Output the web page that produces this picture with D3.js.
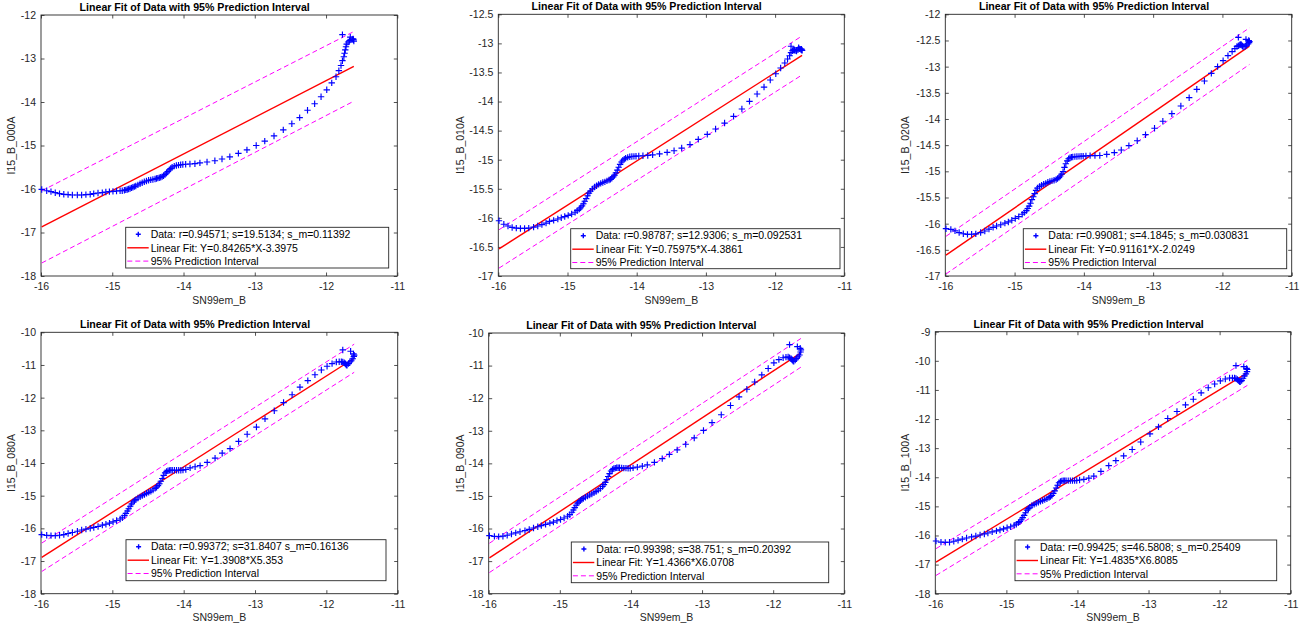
<!DOCTYPE html>
<html><head><meta charset="utf-8">
<script src="https://cdn.jsdelivr.net/npm/d3@7"></script>
<style>body{margin:0;background:#fff}svg{display:block}text{font-family:"Liberation Sans",Arial,Helvetica,sans-serif}</style>
</head><body><svg id="c" width="1313" height="630"></svg>
<script>
// ---- data ----
const X = [-15.99,-15.92,-15.86,-15.80,-15.74,-15.68,-15.62,-15.56,-15.49,-15.43,-15.37,-15.31,-15.26,-15.20,-15.14,-15.09,-15.04,-14.99,-14.94,-14.89,
-14.86,-14.83,-14.81,-14.79,-14.77,-14.75,-14.73,-14.71,-14.69,-14.67,-14.64,-14.61,-14.58,-14.55,-14.52,-14.49,-14.46,-14.43,-14.40,-14.38,-14.36,-14.34,-14.32,-14.30,-14.28,-14.26,-14.24,-14.22,-14.20,-14.18,-14.16,-14.13,-14.10,-14.07,-14.04,-14.01,
-13.97,-13.91,-13.84,-13.77,-13.67,-13.56,-13.46,-13.35,-13.23,-13.11,-12.98,-12.86,-12.73,-12.60,-12.48,-12.37,-12.26,-12.16,-12.07,-11.99,-11.92,-11.86,
-11.82,-11.79,-11.77,-11.75,-11.74,-11.73,-11.72,-11.71,-11.69,-11.67,-11.65,-11.63,-11.615,-11.61,-11.62,-11.66,-11.77];

const Y000A = [-16.01,-16.04,-16.06,-16.085,-16.107,-16.122,-16.13,-16.138,-16.138,-16.138,-16.13,-16.122,-16.107,-16.092,-16.084,-16.069,-16.061,-16.054,-16.046,-16.04,
-16.04,-16.03,-16.02,-16.01,-16.00,-15.99,-15.975,-15.96,-15.945,-15.93,-15.905,-15.88,-15.855,-15.835,-15.815,-15.80,-15.79,-15.78,-15.77,-15.76,-15.75,-15.74,-15.73,-15.715,-15.695,-15.67,-15.635,-15.60,-15.56,-15.53,-15.50,-15.475,-15.46,-15.45,-15.443,-15.437,
-15.43,-15.425,-15.418,-15.40,-15.38,-15.35,-15.31,-15.26,-15.18,-15.10,-15.00,-14.90,-14.78,-14.64,-14.50,-14.36,-14.19,-14.04,-13.88,-13.72,-13.56,-13.42,
-13.28,-13.16,-13.05,-12.96,-12.88,-12.80,-12.73,-12.67,-12.62,-12.59,-12.57,-12.56,-12.57,-12.60,-12.55,-12.51,-12.45];

const Y010A = [-16.05,-16.11,-16.14,-16.165,-16.176,-16.182,-16.182,-16.176,-16.159,-16.14,-16.117,-16.09,-16.06,-16.044,-16.02,-15.998,-15.978,-15.957,-15.935,-15.903,
-15.877,-15.85,-15.827,-15.795,-15.757,-15.714,-15.67,-15.62,-15.576,-15.54,-15.502,-15.47,-15.448,-15.425,-15.407,-15.393,-15.381,-15.365,-15.35,-15.338,-15.318,-15.295,-15.266,-15.228,-15.18,-15.13,-15.08,-15.04,-15.01,-14.99,-14.975,-14.96,-14.95,-14.946,-14.943,-14.94,
-14.937,-14.932,-14.927,-14.918,-14.90,-14.874,-14.846,-14.80,-14.74,-14.65,-14.564,-14.473,-14.37,-14.255,-14.129,-13.997,-13.871,-13.751,-13.63,-13.522,-13.424,-13.338,
-13.269,-13.212,-13.16,-13.126,-13.114,-13.11,-13.114,-13.125,-13.13,-13.11,-13.095,-13.10,-13.115,-13.12,-13.10,-13.074,-13.05];

const Y020A = [-16.096,-16.11,-16.138,-16.17,-16.192,-16.204,-16.203,-16.196,-16.17,-16.14,-16.105,-16.07,-16.045,-16.02,-15.99,-15.967,-15.935,-15.90,-15.865,-15.82,
-15.79,-15.75,-15.71,-15.665,-15.61,-15.54,-15.485,-15.425,-15.365,-15.32,-15.29,-15.265,-15.245,-15.232,-15.21,-15.195,-15.183,-15.17,-15.155,-15.14,-15.12,-15.09,-15.055,-15.005,-14.925,-14.855,-14.80,-14.76,-14.74,-14.73,-14.726,-14.72,-14.718,-14.715,-14.712,-14.709,
-14.705,-14.70,-14.70,-14.697,-14.675,-14.643,-14.593,-14.51,-14.415,-14.30,-14.178,-14.044,-13.899,-13.752,-13.593,-13.433,-13.274,-13.128,-13.0,-12.886,-12.79,-12.714,
-12.657,-12.612,-12.60,-12.587,-12.58,-12.575,-12.59,-12.61,-12.62,-12.61,-12.59,-12.565,-12.54,-12.52,-12.50,-12.48,-12.44];

const Y080A = [-16.193,-16.213,-16.223,-16.223,-16.21,-16.19,-16.158,-16.128,-16.09,-16.052,-16.025,-15.998,-15.972,-15.942,-15.902,-15.874,-15.84,-15.80,-15.76,-15.715,
-15.675,-15.61,-15.54,-15.47,-15.40,-15.325,-15.255,-15.195,-15.155,-15.12,-15.07,-15.037,-14.998,-14.962,-14.928,-14.897,-14.863,-14.826,-14.778,-14.74,-14.693,-14.635,-14.56,-14.475,-14.38,-14.30,-14.255,-14.235,-14.226,-14.224,-14.224,-14.224,-14.224,-14.222,-14.22,-14.217,
-14.20,-14.15,-14.115,-14.08,-13.98,-13.85,-13.70,-13.56,-13.34,-13.12,-12.90,-12.65,-12.40,-12.15,-11.91,-11.68,-11.48,-11.30,-11.155,-11.04,-10.96,-10.91,
-10.90,-10.90,-10.91,-10.93,-10.95,-10.97,-11.00,-11.01,-10.96,-10.91,-10.87,-10.81,-10.74,-10.70,-10.66,-10.58,-10.54];

const Y090A = [-16.22,-16.242,-16.25,-16.235,-16.205,-16.168,-16.133,-16.10,-16.063,-16.028,-15.985,-15.945,-15.91,-15.872,-15.835,-15.805,-15.76,-15.723,-15.677,-15.622,
-15.575,-15.50,-15.43,-15.36,-15.285,-15.22,-15.18,-15.14,-15.103,-15.077,-15.04,-15.005,-14.97,-14.94,-14.905,-14.865,-14.823,-14.772,-14.71,-14.655,-14.585,-14.50,-14.405,-14.315,-14.235,-14.19,-14.16,-14.145,-14.137,-14.137,-14.137,-14.14,-14.145,-14.148,-14.152,-14.155,
-14.14,-14.115,-14.085,-14.045,-13.97,-13.855,-13.725,-13.585,-13.415,-13.22,-12.99,-12.75,-12.51,-12.225,-11.96,-11.725,-11.505,-11.285,-11.09,-10.915,-10.815,-10.76,
-10.74,-10.736,-10.757,-10.78,-10.808,-10.83,-10.86,-10.87,-10.83,-10.78,-10.73,-10.675,-10.583,-10.52,-10.47,-10.419,-10.358];

const Y100A = [-16.19,-16.228,-16.236,-16.234,-16.198,-16.162,-16.125,-16.088,-16.05,-16.02,-15.984,-15.947,-15.915,-15.877,-15.842,-15.81,-15.773,-15.737,-15.70,-15.649,
-15.612,-15.56,-15.52,-15.46,-15.385,-15.31,-15.22,-15.13,-15.08,-15.025,-14.97,-14.93,-14.893,-14.86,-14.83,-14.80,-14.77,-14.742,-14.697,-14.66,-14.625,-14.555,-14.47,-14.37,-14.275,-14.19,-14.145,-14.125,-14.117,-14.117,-14.117,-14.117,-14.117,-14.117,-14.117,-14.11,
-14.095,-14.072,-14.03,-13.96,-13.80,-13.60,-13.43,-13.265,-13.045,-12.79,-12.51,-12.27,-11.98,-11.74,-11.515,-11.32,-11.10,-10.925,-10.797,-10.69,-10.625,-10.59,
-10.59,-10.59,-10.61,-10.64,-10.665,-10.69,-10.71,-10.717,-10.68,-10.60,-10.52,-10.45,-10.37,-10.30,-10.26,-10.20,-10.167];

const yNames = ["I15_B_000A","I15_B_010A","I15_B_020A","I15_B_080A","I15_B_090A","I15_B_100A"];
const slopes = [0.84265, 0.75975, 0.91161, 1.3908, 1.4366, 1.4835];
const intercepts = [-3.3975, -4.3861, -2.0249, 5.353, 6.0708, 6.8085];
const piHalfLeft = [0.83, 0.33, 0.36, 0.435, 0.45, 0.46];
const piHalfRight = [0.80, 0.335, 0.35, 0.43, 0.44, 0.43];
const dataLegend = ["Data: r=0.94571; s=19.5134; s_m=0.11392","Data: r=0.98787; s=12.9306; s_m=0.092531","Data: r=0.99081; s=4.1845; s_m=0.030831",
  "Data: r=0.99372; s=31.8407 s_m=0.16136","Data: r=0.99398; s=38.751; s_m=0.20392","Data: r=0.99425; s=46.5808; s_m=0.25409"];
const fitLegend = ["Linear Fit: Y=0.84265*X-3.3975","Linear Fit: Y=0.75975*X-4.3861","Linear Fit: Y=0.91161*X-2.0249",
  "Linear Fit: Y=1.3908*X5.353","Linear Fit: Y=1.4366*X6.0708","Linear Fit: Y=1.4835*X6.8085"];
const piLegend = "95% Prediction Interval";
const titleText = "Linear Fit of Data with 95% Prediction Interval";
const xLabel = "SN99em_B";
const xDomain = [-16, -11];
const xTicks = [-16,-15,-14,-13,-12,-11];
const yDomains = [[-18,-12],[-17,-12.5],[-17,-12],[-18,-10],[-18,-10],[-18,-9]];
const yTicks = [
  [-18,-17,-16,-15,-14,-13,-12],
  [-17,-16.5,-16,-15.5,-15,-14.5,-14,-13.5,-13,-12.5],
  [-17,-16.5,-16,-15.5,-15,-14.5,-14,-13.5,-13,-12.5,-12],
  [-18,-17,-16,-15,-14,-13,-12,-11,-10],
  [-18,-17,-16,-15,-14,-13,-12,-11,-10],
  [-18,-17,-16,-15,-14,-13,-12,-11,-10,-9]];
const ySeries = [Y000A, Y010A, Y020A, Y080A, Y090A, Y100A];

// ---- layout ----
const layout = [
  {l:41,   r:397.3,  t:15,    b:276,   tc:194.7,  yl:11.7, leg:[125.7,227.3,263,40.7]},
  {l:498.3,r:844.3,  t:14.3,  b:276,   tc:646.7,  yl:460,  leg:[570.7,228.7,269.3,40]},
  {l:945.3,r:1291.7, t:14.3,  b:276,   tc:1094,   yl:905,  leg:[1023.3,228.7,263.4,40]},
  {l:41,   r:397.7,  t:332.3, b:593.7, tc:195,    yl:11.7, leg:[126,539.7,260,41]},
  {l:488.7,r:844.3,  t:333,   b:593.7, tc:641.3,  yl:460,  leg:[571.3,542,257.4,40.7]},
  {l:935.3,r:1290.7, t:331.7, b:593.7, tc:1088.7, yl:905,  leg:[1015,540,261.7,40.7]}
];
const AX = "#262626", FS = 10.5, TICK = 3.5;
const plus = "M-3.2,0H3.2M0,-3.2V3.2";
const svg = d3.select("#c");
const fmt = d => String(d);

layout.forEach((L, i) => {
  const x = d3.scaleLinear().domain(xDomain).range([L.l, L.r]);
  const y = d3.scaleLinear().domain(yDomains[i]).range([L.b, L.t]);
  const g = svg.append("g");

  const styleAxis = sel => {
    sel.select(".domain").remove();
    sel.selectAll("line").attr("stroke", AX).attr("stroke-width", 0.8);
    sel.selectAll("text").attr("fill", AX).style("font-size", FS + "px")
      .style("font-family", '"Liberation Sans",Arial,sans-serif');
  };
  g.append("g").attr("transform", `translate(0,${L.b})`)
    .call(d3.axisBottom(x).tickValues(xTicks).tickFormat(fmt).tickSizeInner(-TICK).tickSizeOuter(0).tickPadding(6.5))
    .call(styleAxis);
  g.append("g").attr("transform", `translate(0,${L.t})`)
    .call(d3.axisTop(x).tickValues(xTicks).tickFormat("").tickSizeInner(-TICK).tickSizeOuter(0))
    .call(styleAxis);
  g.append("g").attr("transform", `translate(${L.l},0)`)
    .call(d3.axisLeft(y).tickValues(yTicks[i]).tickFormat(fmt).tickSizeInner(-TICK).tickSizeOuter(0).tickPadding(5))
    .call(styleAxis);
  g.append("g").attr("transform", `translate(${L.r},0)`)
    .call(d3.axisRight(y).tickValues(yTicks[i]).tickFormat("").tickSizeInner(-TICK).tickSizeOuter(0))
    .call(styleAxis);
  g.append("rect").attr("x", L.l).attr("y", L.t).attr("width", L.r - L.l).attr("height", L.b - L.t)
    .attr("fill", "none").attr("stroke", AX).attr("stroke-width", 0.9);

  g.append("text").attr("x", L.tc).attr("y", L.t - 4).attr("text-anchor", "middle")
    .style("font-size", "10.6px").style("font-weight", "bold").attr("fill", "#000").text(titleText);
  g.append("text").attr("x", (L.l + L.r) / 2).attr("y", L.b + 27.5).attr("text-anchor", "middle")
    .style("font-size", FS + "px").attr("fill", AX).text(xLabel);
  g.append("text").attr("transform", `translate(${L.yl + 3.7},${(L.t + L.b) / 2}) rotate(-90)`)
    .attr("text-anchor", "middle").style("font-size", FS + "px").attr("fill", AX).text(yNames[i]);

  const xe = d3.extent(X);
  const f = v => slopes[i] * v + intercepts[i];
  const hw = [piHalfLeft[i], piHalfRight[i]];
  const line = d3.line().x(d => x(d[0])).y(d => y(d[1]));
  const fitPts = xe.map(v => [v, f(v)]);
  const upPts = xe.map((v, k) => [v, f(v) + hw[k]]);
  const loPts = xe.map((v, k) => [v, f(v) - hw[k]]);
  [upPts, loPts].forEach(p => g.append("path").attr("d", line(p)).attr("fill", "none")
    .attr("stroke", "#ff00ff").attr("stroke-width", 1).attr("stroke-dasharray", "5,3"));
  g.append("path").attr("d", line(fitPts)).attr("fill", "none").attr("stroke", "#ff0000").attr("stroke-width", 1.4);

  g.append("g").selectAll("path").data(X.map((v, k) => [v, ySeries[i][k]])).join("path")
    .attr("transform", d => `translate(${x(d[0])},${y(d[1])})`)
    .attr("d", plus).attr("stroke", "#0000ff").attr("stroke-width", 1.15).attr("fill", "none");

  const [lx, ly, lw, lh] = L.leg;
  const lg = g.append("g");
  lg.append("rect").attr("x", lx).attr("y", ly).attr("width", lw).attr("height", lh)
    .attr("fill", "#fff").attr("stroke", AX).attr("stroke-width", 0.9);
  const rows = [ly + 7, ly + 20.5, ly + 33.8];
  lg.append("path").attr("transform", `translate(${lx + 12.6},${rows[0]})`).attr("d", "M-2.5,0H2.5M0,-2.5V2.5")
    .attr("stroke", "#0000ff").attr("stroke-width", 1.4);
  lg.append("line").attr("x1", lx + 1.6).attr("x2", lx + 23).attr("y1", rows[1]).attr("y2", rows[1])
    .attr("stroke", "#ff0000").attr("stroke-width", 1.4);
  lg.append("line").attr("x1", lx + 1.6).attr("x2", lx + 23).attr("y1", rows[2]).attr("y2", rows[2])
    .attr("stroke", "#ff00ff").attr("stroke-width", 1).attr("stroke-dasharray", "5,3");
  [dataLegend[i], fitLegend[i], piLegend].forEach((t, k) => {
    lg.append("text").attr("x", lx + 25).attr("y", rows[k]).attr("dy", "0.36em")
      .style("font-size", FS + "px").attr("fill", "#000").text(t);
  });
});
</script></body></html>
